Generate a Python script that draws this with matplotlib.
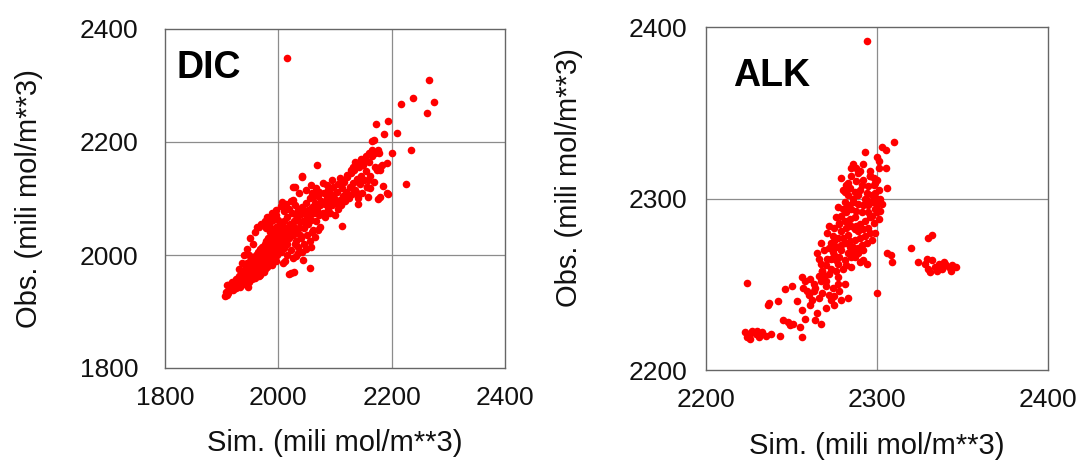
import matplotlib
matplotlib.use('Agg')
from matplotlib import pyplot as plt
import numpy as np

plt.rcParams['font.family'] = ['Liberation Sans', 'DejaVu Sans']

# DIC panel: (sim, obs) pairs
dic_pts = [
    # lower tail
    (1905, 1928), (1908, 1935), (1910, 1947), (1915, 1940), (1918, 1952), (1922, 1945),
    (1925, 1958), (1928, 1950), (1930, 1962), (1932, 1943), (1934, 1968), (1936, 1955),
    (1938, 1972), (1940, 1948), (1940, 1962), (1912, 1932), (1920, 1938), (1926, 1942),
    (1909, 1929), (1911, 1947), (1924, 1952), (1946, 1943), (1964, 1968), (1968, 1965),
    # dense core
    (1942, 1975), (1944, 1960), (1945, 1985), (1947, 1968), (1948, 1952), (1950, 1978),
    (1950, 1990), (1952, 1965), (1953, 1958), (1955, 1982), (1955, 1995), (1957, 1970),
    (1958, 1988), (1958, 1960), (1960, 1975), (1960, 2000), (1962, 1985), (1962, 1965),
    (1963, 1993), (1964, 2005), (1965, 1978), (1965, 1970), (1966, 1990), (1967, 2010),
    (1968, 1983), (1968, 1998), (1970, 1975), (1970, 2005), (1971, 1990), (1972, 2015),
    (1973, 1983), (1974, 1998), (1975, 2008), (1975, 1970), (1976, 2020), (1977, 1993),
    (1978, 1985), (1978, 2003), (1979, 2025), (1980, 2012), (1980, 1978), (1981, 1995),
    (1982, 2030), (1983, 2005), (1984, 1988), (1985, 2018), (1985, 2040), (1986, 2000),
    (1987, 2010), (1988, 2025), (1988, 1983), (1989, 2035), (1990, 2015), (1990, 1995),
    (1991, 2045), (1992, 2005), (1993, 2022), (1994, 2030), (1995, 1990), (1995, 2010),
    (1996, 2050), (1997, 2020), (1998, 2038), (1998, 2000), (1999, 2028), (2000, 2012),
    (2000, 2045), (1962, 2050), (1970, 2055), (1978, 2048), (1985, 2058), (1990, 2062),
    (1946, 1975), (1952, 1972), (1956, 1990), (1961, 1980), (1966, 1962), (1972, 1996),
    (1976, 1975), (1982, 2018), (1986, 1992), (1992, 2030), (1996, 2002), (1943, 1966),
    (1958, 2040), (1950, 2030), (1945, 2010), (1940, 2000), (1935, 1985), (1930, 1975),
    (1955, 2020), (1948, 2000), (1985, 2045), (1995, 2070), (2002, 2050), (1965, 2050),
    # upper part of the core
    (1976, 2060), (1980, 2068), (1984, 2052), (1988, 2074), (1992, 2068), (1996, 2080),
    (2000, 2062), (2004, 2086), (2006, 2094), (2010, 2078), (2014, 2090), (2018, 2082),
    (2022, 2096), (2026, 2097), (2029, 2088),
    # 2000-2040
    (2002, 2030), (2003, 2018), (2004, 2055), (2005, 2005), (2006, 2040), (2008, 2025),
    (2010, 2060), (2010, 2012), (2012, 2035), (2013, 2048), (2015, 2020), (2016, 2068),
    (2018, 2042), (2019, 2030), (2020, 2055), (2022, 2008), (2023, 2045), (2024, 2075),
    (2025, 2035), (2027, 2060), (2028, 2050), (2030, 2040), (2031, 2070), (2032, 2025),
    (2034, 2062), (2035, 2080), (2036, 2048), (2038, 2058), (2039, 2035), (2040, 2072),
    (2041, 2006), (2044, 1992), (2056, 1977), (2023, 1968), (2028, 1970), (2018, 1966),
    (2024, 2044), (2030, 2020), (2035, 2015), (2040, 2030), (2045, 2020), (2050, 2035),
    (2055, 2025), (2060, 2040), (2065, 2032), (2048, 2010), (2058, 2015), (2070, 2045),
    (2034, 2003), (2025, 1995), (2032, 1998), (2012, 1990), (2008, 1985), (2015, 2000),
    # 2040-2080
    (2042, 2085), (2044, 2060), (2045, 2048), (2047, 2075), (2048, 2092), (2050, 2065),
    (2052, 2055), (2053, 2080), (2055, 2070), (2056, 2100), (2058, 2062), (2060, 2085),
    (2061, 2045), (2063, 2075), (2065, 2092), (2066, 2060), (2068, 2080), (2070, 2105),
    (2071, 2070), (2073, 2050), (2074, 2088), (2076, 2095), (2078, 2075), (2080, 2110),
    (2068, 2160), (2042, 2138), (2025, 2120), (2057, 2124), (2036, 2110), (2029, 2121),
    (2041, 2139), (2059, 2109), (2079, 2127), (2094, 2133), (2048, 2115), (2066, 2118),
    (2072, 2112), (2086, 2124), (2062, 2102),
    # 2080-2120
    (2082, 2090), (2083, 2068), (2085, 2100), (2087, 2082), (2088, 2115), (2090, 2095),
    (2092, 2075), (2093, 2108), (2095, 2088), (2097, 2120), (2098, 2100), (2100, 2070),
    (2101, 2092), (2103, 2112), (2105, 2082), (2106, 2125), (2108, 2098), (2110, 2088),
    (2112, 2052), (2112, 2118), (2114, 2105), (2116, 2130), (2118, 2095), (2120, 2112),
    (2109, 2136), (2121, 2141),
    # 2120-2200
    (2122, 2138), (2124, 2100), (2126, 2120), (2128, 2145), (2130, 2108), (2132, 2128),
    (2134, 2150), (2136, 2115), (2138, 2135), (2140, 2100), (2142, 2155), (2144, 2125),
    (2146, 2140), (2148, 2110), (2150, 2160), (2152, 2132), (2155, 2148), (2157, 2120),
    (2160, 2165), (2162, 2140), (2165, 2175), (2168, 2130), (2170, 2155), (2180, 2150),
    (2183, 2160), (2145, 2170), (2150, 2168), (2140, 2162), (2132, 2156), (2128, 2150),
    (2155, 2175), (2160, 2180), (2165, 2185), (2170, 2180), (2135, 2165), (2179, 2156),
    (2191, 2162), (2174, 2150), (2159, 2133), (2162, 2118), (2156, 2121), (2138, 2109),
    (2141, 2091), (2159, 2103), (2179, 2103), (2193, 2108), (2184, 2123),
    # sparse upper end and outliers
    (2173, 2232), (2165, 2201), (2169, 2204), (2175, 2186), (2178, 2180), (2176, 2099),
    (2186, 2215), (2192, 2110), (2194, 2238), (2200, 2180), (2210, 2216), (2216, 2267),
    (2225, 2126), (2234, 2185), (2238, 2277), (2262, 2252), (2265, 2310), (2274, 2271),
    (2015, 2349),
]

# ALK panel: (sim, obs) pairs
alk_pts = [
    # top of the blob
    (2294, 2392), (2310, 2333), (2305, 2328), (2303, 2330), (2293, 2327), (2300, 2324),
    (2301, 2322), (2286, 2320), (2285, 2318), (2290, 2316), (2301, 2318), (2305, 2318),
    (2296, 2313), (2300, 2311), (2298, 2308), (2283, 2309), (2284, 2306), (2281, 2304),
    (2306, 2306),
    # blob y 2300-2315
    (2279, 2312), (2282, 2308), (2285, 2313), (2288, 2310), (2290, 2305), (2292, 2311),
    (2295, 2307), (2297, 2302), (2299, 2309), (2301, 2305), (2283, 2302), (2287, 2304),
    (2293, 2300), (2296, 2313), (2300, 2300), (2280, 2305), (2286, 2298), (2289, 2315),
    (2294, 2303), (2298, 2312), (2289, 2302), (2291, 2308), (2299, 2303), (2296, 2316),
    (2288, 2318), (2292, 2320),
    # blob y 2285-2300
    (2277, 2295), (2279, 2290), (2281, 2298), (2283, 2286), (2285, 2294), (2287, 2289),
    (2289, 2297), (2291, 2292), (2293, 2287), (2295, 2296), (2297, 2290), (2299, 2294),
    (2301, 2288), (2303, 2297), (2278, 2286), (2282, 2292), (2286, 2300), (2290, 2285),
    (2294, 2299), (2298, 2286), (2300, 2292), (2302, 2300), (2284, 2288), (2288, 2293),
    (2292, 2296), (2296, 2289), (2280, 2294), (2276, 2289), (2283, 2296), (2295, 2292),
    (2297, 2298), (2300, 2296), (2302, 2293),
    # blob y 2272-2285
    (2271, 2280), (2273, 2274), (2275, 2283), (2277, 2277), (2279, 2281), (2281, 2274),
    (2283, 2279), (2285, 2284), (2287, 2276), (2289, 2281), (2291, 2273), (2293, 2278),
    (2295, 2283), (2297, 2276), (2299, 2280), (2274, 2278), (2278, 2285), (2282, 2283),
    (2286, 2272), (2290, 2277), (2294, 2274), (2272, 2284), (2276, 2272), (2280, 2277),
    (2284, 2275), (2288, 2284), (2292, 2282), (2296, 2280), (2287, 2282), (2281, 2287),
    (2275, 2275), (2279, 2273),
    # y 2258-2272
    (2265, 2268), (2267, 2262), (2269, 2270), (2271, 2265), (2273, 2259), (2275, 2267),
    (2277, 2262), (2279, 2270), (2281, 2264), (2283, 2268), (2285, 2260), (2287, 2266),
    (2289, 2271), (2268, 2258), (2272, 2271), (2276, 2264), (2280, 2259), (2284, 2272),
    (2266, 2265), (2270, 2261), (2274, 2269), (2278, 2266), (2282, 2261), (2286, 2269),
    (2290, 2263), (2294, 2262), (2267, 2274), (2292, 2270), (2292, 2264), (2285, 2266),
    (2289, 2268), (2273, 2265),
    # lower band y 2236-2258
    (2256, 2254), (2258, 2252), (2261, 2253), (2259, 2246), (2264, 2248), (2268, 2245),
    (2272, 2244), (2262, 2241), (2266, 2242), (2270, 2249), (2275, 2243), (2279, 2241),
    (2283, 2242), (2273, 2241), (2268, 2258), (2272, 2256), (2267, 2252), (2263, 2250),
    (2266, 2255), (2270, 2252), (2274, 2248), (2277, 2254), (2260, 2244), (2257, 2248),
    (2281, 2250), (2278, 2246), (2276, 2258), (2269, 2255), (2277, 2250), (2263, 2246),
    (2261, 2238), (2253, 2240), (2275, 2238), (2270, 2236), (2258, 2230),
    # lower left scatter
    (2224, 2251), (2246, 2247), (2250, 2249), (2236, 2238), (2237, 2239), (2242, 2240),
    (2256, 2235), (2245, 2229), (2248, 2228), (2251, 2227), (2249, 2226), (2255, 2225),
    (2256, 2219), (2243, 2220), (2264, 2229), (2267, 2227), (2265, 2233), (2238, 2221),
    (2223, 2222), (2225, 2220), (2227, 2223), (2229, 2221), (2231, 2219), (2233, 2222),
    (2235, 2220), (2226, 2218), (2230, 2223), (2224, 2219),
    # right side and cluster
    (2300, 2245), (2306, 2268), (2308, 2267), (2309, 2263), (2320, 2271), (2324, 2263),
    (2332, 2279), (2330, 2277), (2328, 2262), (2330, 2259), (2332, 2264), (2334, 2260),
    (2336, 2262), (2338, 2259), (2340, 2262), (2342, 2260), (2344, 2261), (2346, 2260),
    (2329, 2265), (2331, 2257), (2335, 2258), (2339, 2263), (2343, 2258),
]

dic_sim, dic_obs = np.array(dic_pts).T
alk_sim, alk_obs = np.array(alk_pts).T

W, H = 1088, 461
fig = plt.figure(figsize=(W / 100, H / 100), dpi=100)
ax1 = fig.add_axes([165 / W, 1 - 368 / H, 340 / W, 339 / H])
ax2 = fig.add_axes([706 / W, 1 - 370 / H, 342 / W, 343 / H])


def style(ax, lim, ticks, grid, name, name_xy, ylab_y, ypad):
    ax.set_xlim(lim)
    ax.set_ylim(lim)
    ax.set_xticks(ticks)
    ax.set_yticks(ticks)
    for g in grid:
        ax.axvline(g, color='#8c8c8c', lw=0.9, zorder=0)
        ax.axhline(g, color='#8c8c8c', lw=0.9, zorder=0)
    ax.tick_params(length=0, labelsize=19, colors='#111111')
    ax.tick_params(axis='x', pad=13)
    ax.tick_params(axis='y', pad=ypad)
    for s in ax.spines.values():
        s.set_color('#666666')
        s.set_linewidth(1.0)
    ax.set_xlabel('Sim. (mili mol/m**3)', fontsize=21, color='#111111', va='center')
    ax.set_ylabel('Obs. (mili mol/m**3)', fontsize=21, color='#111111', va='center')
    ax.xaxis.set_label_coords(0.5, -0.222)
    ax.yaxis.set_label_coords(-0.40, ylab_y)
    ax.text(name_xy[0], name_xy[1], name, transform=ax.transAxes, fontsize=27,
            fontweight='bold', va='center', ha='left', color='black')


style(ax1, (1800, 2400), [1800, 2000, 2200, 2400], [2000, 2200], 'DIC', (0.035, 0.885), 0.50, 19)
ax1.scatter(dic_sim, dic_obs, s=30, c='#ff0000', linewidths=0, zorder=3)

style(ax2, (2200, 2400), [2200, 2300, 2400], [2300], 'ALK', (0.08, 0.857), 0.56, 13.5)
ax2.scatter(alk_sim, alk_obs, s=30, c='#ff0000', linewidths=0, zorder=3)

fig.savefig('out.png', dpi=100)
